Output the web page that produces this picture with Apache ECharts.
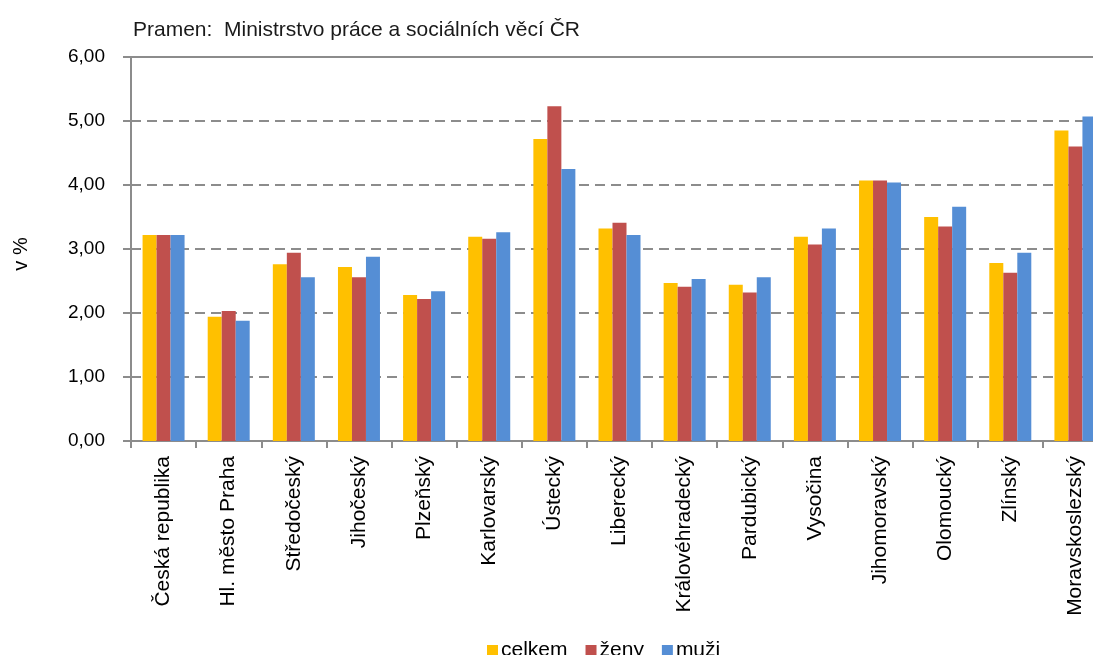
<!DOCTYPE html>
<html>
<head>
<meta charset="utf-8">
<script src="https://cdn.jsdelivr.net/npm/echarts@6/dist/echarts.min.js"></script>
<style>
  html, body { margin: 0; padding: 0; background: #ffffff; overflow: hidden; }
  /* the plot runs past the right edge of the picture, as in the original */
  #myChart { width: 1108px; height: 655px; }
</style>
</head>
<body>
<div id="myChart"></div>
<script>
// kraje
var kraje = [
  "Česká republika", "Hl. město Praha", "Středočeský", "Jihočeský", "Plzeňský",
  "Karlovarský", "Ústecký", "Liberecký", "Královéhradecký", "Pardubický",
  "Vysočina", "Jihomoravský", "Olomoucký", "Zlínský", "Moravskoslezský"
];
// podíl nezaměstnaných v %
var celkem = [3.22, 1.94, 2.76, 2.72, 2.28, 3.19, 4.72, 3.32, 2.47, 2.44, 3.19, 4.07, 3.50, 2.78, 4.85];
var zeny   = [3.22, 2.03, 2.94, 2.56, 2.22, 3.16, 5.23, 3.41, 2.41, 2.32, 3.07, 4.07, 3.35, 2.63, 4.60];
var muzi   = [3.22, 1.88, 2.56, 2.88, 2.34, 3.26, 4.25, 3.22, 2.53, 2.56, 3.32, 4.04, 3.66, 2.94, 5.07];
var yTicks = [0, 1, 2, 3, 4, 5, 6];

var myChart = echarts.init(document.getElementById("myChart"));
var font = "Liberation Sans, Arial, sans-serif";
var gray = "#8c8c8c";

var option = {
  animation: false,
  textStyle: { fontFamily: font },
  title: {
    text: "Pramen:  Ministrstvo práce a sociálních věcí ČR",
    left: 128,
    top: 15,
    textStyle: { fontSize: 21, fontWeight: "normal", color: "#1a1a1a", fontFamily: font }
  },
  legend: {
    left: 482,
    top: 635,
    itemWidth: 11,
    itemHeight: 11,
    itemGap: 18,
    icon: "rect",
    textStyle: { fontSize: 21, color: "#000", padding: [0, 0, 0, -2] },
    data: ["celkem", "ženy", "muži"]
  },
  grid: { left: 131, right: 0, top: 57, bottom: 214 },
  xAxis: [
    {
      type: "category",
      data: kraje,
      axisLine: { lineStyle: { color: gray, width: 2 } },
      axisTick: { show: true, length: 7, lineStyle: { color: gray, width: 2 } },
      axisLabel: {
        rotate: 90,
        interval: 0,
        margin: 15,
        fontSize: 21,
        color: "#000"
      }
    },
    {
      type: "category",
      data: kraje,
      position: "top",
      axisLine: { lineStyle: { color: gray, width: 2 } },
      axisTick: { show: false },
      axisLabel: { show: false }
    }
  ],
  yAxis: {
    type: "value",
    min: yTicks[0],
    max: yTicks[yTicks.length - 1],
    interval: 1,
    name: "v %",
    nameLocation: "middle",
    nameGap: 100,
    nameTextStyle: { fontSize: 20, color: "#000", padding: [0, 0, 0, -10] },
    axisLine: { show: true, lineStyle: { color: gray, width: 2 } },
    axisTick: { show: true, length: 8, lineStyle: { color: gray, width: 2 } },
    axisLabel: {
      margin: 26,
      fontSize: 19,
      color: "#000",
      formatter: function (v) { return v.toFixed(2).replace(".", ","); }
    },
    splitLine: { show: true, lineStyle: { color: gray, width: 2, type: [10, 6] } }
  },
  series: [
    { name: "celkem", type: "bar", data: celkem, barWidth: 14, barGap: "0%", itemStyle: { color: "#FFC000" } },
    { name: "ženy", type: "bar", data: zeny, barWidth: 14, barGap: "0%", itemStyle: { color: "#C0504D" } },
    { name: "muži", type: "bar", data: muzi, barWidth: 14, barGap: "0%", itemStyle: { color: "#558ED5" } }
  ]
};

option && myChart.setOption(option);
</script>
</body>
</html>
